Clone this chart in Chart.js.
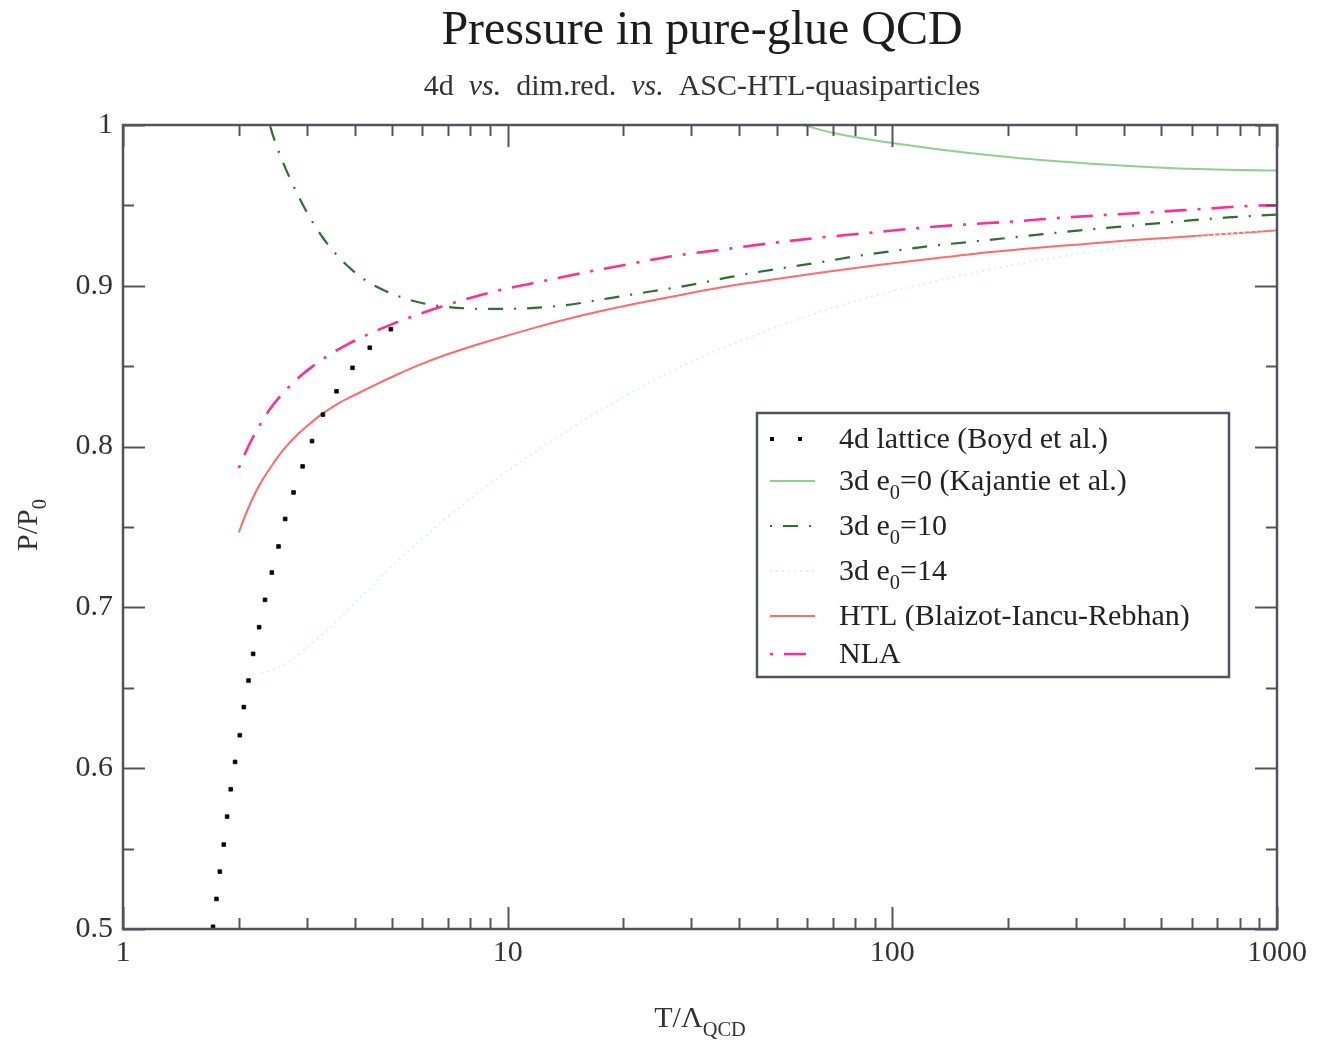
<!DOCTYPE html>
<html><head><meta charset="utf-8">
<script src="https://cdn.jsdelivr.net/npm/chart.js@4.4.1/dist/chart.umd.min.js"></script>
<style>html,body{margin:0;padding:0;background:#fff;}canvas{display:block;}</style>
</head><body>
<canvas id="c" width="1325" height="1043"></canvas>
<script>
// ---------------- data ----------------
const latticeT = [1.714,1.750,1.785,1.828,1.865,1.906,1.956,2.012,2.061,2.12,2.179,2.259,2.34,2.437,2.537,2.64,2.775,2.93,3.10,3.31,3.59,3.95,4.38,4.97];
const latticeP = [0.5014,0.5187,0.5357,0.5525,0.5699,0.5869,0.6039,0.6205,0.638,0.6545,0.6711,0.6877,0.7047,0.7217,0.7379,0.755,0.7715,0.7877,0.8034,0.8199,0.8344,0.849,0.8615,0.873];

const kajantieT = [50,58.7,70.3,89.6,101,132.8,191,243,329,473,659,1000];
const kajantieP = [1.005,1.0,0.995,0.9905,0.9886,0.9848,0.9805,0.9782,0.9759,0.9738,0.9725,0.9717];

const e10T = [2.36,2.408,2.466,2.608,2.726,2.912,3.06,3.294,3.554,3.911,4.297,4.844,5.405,6.058,7.006,8.82,11.2,14.16,18.3,23.7,30.2,38.4,48.9,63.3,80.5,104.2,132.8,171.7,218.7,282.9,360,459,585,745,1000];
const e10P = [1.007,1.0,0.992,0.9765,0.966,0.952,0.9425,0.9305,0.9205,0.9105,0.903,0.8965,0.8922,0.889,0.8868,0.8856,0.886,0.888,0.8922,0.8966,0.9007,0.9057,0.9101,0.9142,0.9184,0.9222,0.9254,0.9281,0.9308,0.9336,0.936,0.9383,0.9405,0.9425,0.9443];

const e14T = [2.288,2.466,2.681,2.93,3.113,3.539,3.981,4.478,4.983,5.725,6.44,7.1,8.24,9.07,10.42,12.37,15.21,19.74,25.14,32.0,40.8,51.9,68.2,86.9,114.1,145.3,190.9,250.6,329,419,550,745,1000];
const e14P = [0.6591,0.6615,0.666,0.6725,0.6777,0.69,0.702,0.714,0.7255,0.7385,0.7492,0.7577,0.77,0.7776,0.788,0.8002,0.814,0.83,0.8437,0.8558,0.8663,0.8758,0.8855,0.8929,0.8999,0.9056,0.9115,0.9166,0.9211,0.9248,0.9286,0.9325,0.9356];

const htlT = [2.0,2.05,2.1,2.2,2.3,2.45,2.6,2.8,3.0,3.3,3.65,4.05,4.563,5.144,5.914,6.8,7.82,8.99,10.34,11.9,13.73,17.48,22.27,28.4,37.3,48.9,66.2,89.6,121.2,164,222,300.6,406.7,550,745,1000];
const htlP = [0.7466,0.7535,0.7598,0.7705,0.779,0.789,0.7975,0.806,0.8125,0.8205,0.8272,0.8327,0.8388,0.8447,0.851,0.8565,0.8613,0.8658,0.8701,0.8743,0.8783,0.8843,0.8896,0.8945,0.8997,0.9039,0.9084,0.9126,0.9163,0.92,0.923,0.9256,0.9281,0.9302,0.9323,0.9345];

const nlaT = [2.0,2.085,2.158,2.282,2.408,2.53,2.726,2.912,3.11,3.415,3.813,4.383,4.991,5.74,6.735,8.47,10.0,11.45,15.04,20.35,26.7,36.1,48.9,66.2,86.9,117.6,154.4,209,274.4,371,488,659,893,1000];
const nlaP = [0.7867,0.7967,0.8041,0.8145,0.8232,0.8298,0.8382,0.8445,0.8499,0.8566,0.8633,0.8703,0.876,0.8815,0.8871,0.8941,0.8984,0.9013,0.9072,0.9132,0.9184,0.9225,0.9267,0.9302,0.9329,0.936,0.9381,0.9401,0.9423,0.9443,0.946,0.948,0.9499,0.950];

const seriesLabels = ['4d lattice (Boyd et al.)','3d e_0=0 (Kajantie et al.)','3d e_0=10','3d e_0=14','HTL (Blaizot-Iancu-Rebhan)','NLA'];
const xMajorTicks = [1,10,100,1000];
const xMinorTicks = [2,3,4,5,6,7,8,9,20,30,40,50,60,70,80,90,200,300,400,500,600,700,800,900];
const yMajorTicks = [0.5,0.6,0.7,0.8,0.9,1];
const yMinorTicks = [0.55,0.65,0.75,0.85,0.95];
const titleText = 'Pressure in pure-glue QCD';
const subtitleText = '4d  *vs.*  dim.red.  *vs.*  ASC-HTL-quasiparticles';
const xTitleText = 'T/\u039B_{QCD}';
const yTitleText = 'P/P_0';

// ---------------- helpers ----------------
const SERIF = "'Liberation Serif','Times New Roman',serif";
const AXIS = '#50545f';
const pts = (T,P) => T.map((t,i)=>({x:t,y:P[i]}));

function parseRich(s){
  const parts=[]; let buf='', it=false, i=0;
  const flush=()=>{ if(buf){parts.push({t:buf,sub:false,it});buf='';} };
  while(i<s.length){
    const c=s[i];
    if(c==='_'){ flush();
      if(s[i+1]==='{'){ const j=s.indexOf('}',i); parts.push({t:s.slice(i+2,j),sub:true,it}); i=j+1; }
      else { parts.push({t:s[i+1],sub:true,it}); i+=2; }
      continue; }
    if(c==='*'){ flush(); it=!it; i++; continue; }
    buf+=c; i++;
  }
  flush(); return parts;
}
function fontFor(p,size){ const s = p.sub ? size*0.68 : size; return (p.it?'italic ':'')+s+'px '+SERIF; }
function richWidth(ctx,parts,size){ let w=0; parts.forEach(p=>{ctx.font=fontFor(p,size); w+=ctx.measureText(p.t).width;}); return w; }
function drawRich(ctx,text,x,y,size,align){
  const parts=parseRich(text);
  let cx = x;
  if(align==='center') cx = x - richWidth(ctx,parts,size)/2;
  ctx.textBaseline='alphabetic'; ctx.textAlign='left';
  parts.forEach(p=>{ ctx.font=fontFor(p,size); ctx.fillText(p.t,cx,y+(p.sub?size*0.3:0)); cx+=ctx.measureText(p.t).width; });
}
function hasSub(s){ return s.indexOf('_')>=0; }

// ---------------- plugins ----------------
const decor = {
  id:'decor',
  afterDatasetsDraw(chart){
    const {ctx, chartArea:{left,right,top,bottom}, scales:{x,y}} = chart;
    ctx.save();
    ctx.strokeStyle = AXIS; ctx.lineWidth = 2; ctx.setLineDash([]);
    const seg=(a,b,c,d)=>{ctx.beginPath();ctx.moveTo(a,b);ctx.lineTo(c,d);ctx.stroke();};
    x.ticks.forEach(t=>{
      const px = Math.round(x.getPixelForValue(t.value))+0.5;
      const L = xMajorTicks.includes(t.value) ? 22 : 11;
      seg(px,bottom,px,bottom-L); seg(px,top,px,top+L);
    });
    y.ticks.forEach(t=>{
      const py = Math.round(y.getPixelForValue(t.value))+0.5;
      const L = yMajorTicks.some(v=>Math.abs(v-t.value)<1e-6) ? 22 : 11;
      seg(left,py,left+L,py); seg(right,py,right-L,py);
    });
    ctx.lineWidth = 2.5;
    ctx.strokeRect(left,top,right-left,bottom-top);

    // legend box
    const bx=757, by=413, bw=472, bh=264;
    ctx.fillStyle='#fff'; ctx.fillRect(bx,by,bw,bh);
    ctx.strokeStyle=AXIS; ctx.lineWidth=2.5; ctx.strokeRect(bx,by,bw,bh);
    let base = 448;
    chart.data.datasets.forEach((ds,i)=>{
      if(i>0){ const prevSub=hasSub(seriesLabels[i-1]), curSub=hasSub(seriesLabels[i]); base += prevSub?45:(curSub?42:38); }
      const ly = base-9;
      if(!ds.showLine){
        ctx.fillStyle=ds.pointBackgroundColor;
        [772,800].forEach(px=>ctx.fillRect(px-2,ly-2,4,4));
      } else {
        ctx.strokeStyle=ds.borderColor; ctx.lineWidth=ds.borderWidth;
        ctx.setLineDash(ds.borderDash||[]); ctx.lineDashOffset=ds.borderDashOffset||0;
        seg(770,ly,815,ly);
        ctx.setLineDash([]); ctx.lineDashOffset=0;
      }
      ctx.fillStyle='#222';
      drawRich(ctx,seriesLabels[i],839,base,30,'left');
    });
    ctx.restore();
  },
  afterDraw(chart){
    const {ctx, chartArea:{left,right}} = chart;
    const cx=(left+right)/2;
    ctx.save();
    ctx.fillStyle='#1c1c1c';
    drawRich(ctx,titleText,cx+2,44,48,'center');
    ctx.fillStyle='#333';
    drawRich(ctx,subtitleText,cx+2,95,30,'center');
    drawRich(ctx,xTitleText,cx,1027,30,'center');
    ctx.translate(37,525); ctx.rotate(-Math.PI/2);
    drawRich(ctx,yTitleText,0,0,30,'center');
    ctx.restore();
  }
};

// ---------------- chart ----------------
const lineDs = (label,T,P,color,width,dash,dashOffset)=>({
  label, data:pts(T,P), showLine:true, pointRadius:0, borderColor:color, backgroundColor:color,
  borderWidth:width, borderDash:dash, borderDashOffset:dashOffset, cubicInterpolationMode:'monotone', fill:false
});

new Chart(document.getElementById('c'),{
  type:'scatter',
  data:{ datasets:[
    { label:seriesLabels[0], data:pts(latticeT,latticeP), showLine:false, pointStyle:'rect',
      pointRadius:2.6, pointBorderWidth:0.8, pointBackgroundColor:'#000', pointBorderColor:'#000', borderColor:'#000', backgroundColor:'#000' },
    lineDs(seriesLabels[1],kajantieT,kajantieP,'#8fcf8f',2,[],0),
    lineDs(seriesLabels[2],e10T,e10P,'#2f6f2f',2.2,[15,11,2,11],26),
    lineDs(seriesLabels[3],e14T,e14P,'#d3f9ec',2,[2,4],0),
    lineDs(seriesLabels[4],htlT,htlP,'#ff6a6a',2,[],0),
    lineDs(seriesLabels[5],nlaT,nlaP,'#ff2d95',2.6,[22,11,3,11],33)
  ]},
  options:{
    responsive:false, animation:false, devicePixelRatio:1,
    layout:{ padding:{ left:0, right:48, top:125, bottom:0 } },
    plugins:{ legend:{display:false}, title:{display:false}, tooltip:{enabled:false} },
    scales:{
      x:{ type:'logarithmic', min:1, max:1000,
        grid:{display:false, drawTicks:false}, border:{display:false},
        afterBuildTicks:(s)=>{ s.ticks = xMajorTicks.concat(xMinorTicks).sort((a,b)=>a-b).map(v=>({value:v})); },
        afterFit:(s)=>{ s.height = 114; },
        ticks:{ autoSkip:false, maxRotation:0, padding:6, color:'#333', font:{family:SERIF,size:30},
          callback:(v)=> xMajorTicks.includes(v) ? String(v) : '' } },
      y:{ type:'linear', min:0.5, max:1,
        grid:{display:false, drawTicks:false}, border:{display:false},
        afterBuildTicks:(s)=>{ s.ticks = yMajorTicks.concat(yMinorTicks).sort((a,b)=>a-b).map(v=>({value:v})); },
        afterFit:(s)=>{ s.width = 123; },
        ticks:{ autoSkip:false, padding:10, color:'#333', font:{family:SERIF,size:30},
          callback:(v)=>{ const m = yMajorTicks.find(t=>Math.abs(t-v)<1e-6); return m===undefined ? '' : (m===1?'1':m.toFixed(1)); } } }
    }
  },
  plugins:[decor]
});
</script>
</body></html>
